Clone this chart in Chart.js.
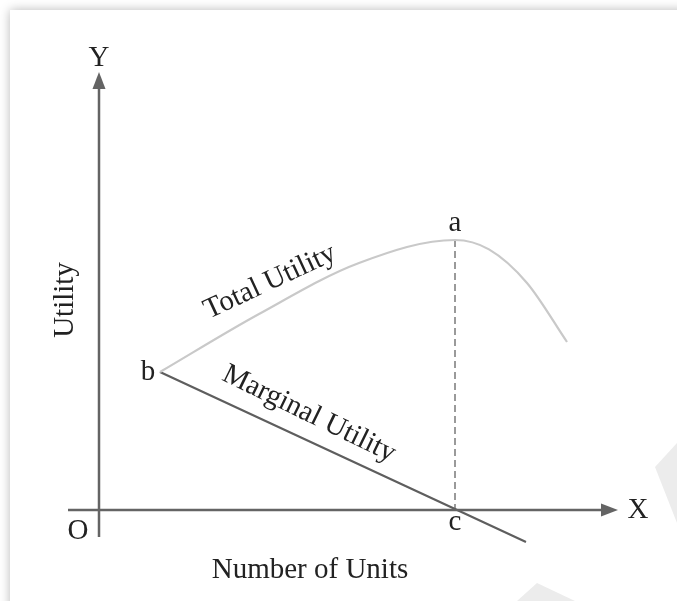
<!DOCTYPE html>
<html>
<head>
<meta charset="utf-8">
<script src="https://cdn.jsdelivr.net/npm/chart.js@4/dist/chart.umd.min.js"></script>
<style>
  html, body { margin: 0; padding: 0; background: #ffffff; width: 677px; height: 601px; overflow: hidden; }
  #frame { position: absolute; left: 10px; top: 10px; width: 700px; height: 620px; background: #fff; box-shadow: 0 0 10px rgba(0,0,0,0.28); }
  .wm { position: absolute; background: #ececec; }
  #wm1 { left: 640px; top: 430px; width: 37px; height: 100px; clip-path: polygon(15px 37px, 37px 13px, 37px 93px); }
  #wm2 { left: 510px; top: 575px; width: 70px; height: 26px; clip-path: polygon(7px 26px, 27px 8px, 65px 26px); }
  canvas { position: absolute; left: 0; top: 0; }
</style>
</head>
<body>
<div id="frame"></div>
<div class="wm" id="wm1"></div>
<div class="wm" id="wm2"></div>
<canvas id="c" width="677" height="601"></canvas>
<script>
// ---- data (abstract units, origin O = (0,0)) ----
const tuX = [3.05, 8.0, 13.0, 17.8, 19.5, 21.4, 23.4];
const tuY = [6.9, 9.8, 12.35, 13.5, 13.03, 11.35, 8.4];
const muX = [3.05, 17.8, 21.35];
const muY = [6.9, 0.05, -1.6];
const dropX = [17.8, 17.8];
const dropY = [13.5, 0];
const axisXRange = [-1.55, 25.95];
const axisYRange = [-1.35, 21.9];
const pointLabels = ["a", "b", "c"];
const pointLabelX = [17.8, 2.45, 17.8];
const pointLabelY = [14.35, 6.9, -0.6];
const xTitle = "Number of Units";
const yTitle = "Utility";
const curveLabels = ["Total Utility", "Marginal Utility"];

const toPts = (xs, ys) => xs.map((x, i) => ({ x: x, y: ys[i] }));

const FONT = '29px "Liberation Serif", "DejaVu Serif", serif';

const drawPlugin = {
  id: 'econ',
  afterDatasetsDraw(chart) {
    const ctx = chart.ctx;
    const sx = chart.scales.x, sy = chart.scales.y;
    const px = v => sx.getPixelForValue(v);
    const py = v => sy.getPixelForValue(v);
    const axisColor = '#646464';
    ctx.save();
    // axes
    ctx.strokeStyle = axisColor;
    ctx.lineWidth = 2.5;
    ctx.beginPath();
    ctx.moveTo(px(axisXRange[0]), py(0));
    ctx.lineTo(px(axisXRange[1]) - 10, py(0));
    ctx.moveTo(px(0), py(axisYRange[0]));
    ctx.lineTo(px(0), py(axisYRange[1]) + 10);
    ctx.stroke();
    // arrow heads
    ctx.fillStyle = axisColor;
    const xt = px(axisXRange[1]), yt = py(0);
    ctx.beginPath();
    ctx.moveTo(xt, yt); ctx.lineTo(xt - 17, yt - 6.5); ctx.lineTo(xt - 17, yt + 6.5); ctx.closePath(); ctx.fill();
    const ax = px(0), ay = py(axisYRange[1]);
    ctx.beginPath();
    ctx.moveTo(ax, ay); ctx.lineTo(ax - 6.5, ay + 17); ctx.lineTo(ax + 6.5, ay + 17); ctx.closePath(); ctx.fill();

    // text
    ctx.font = FONT;
    ctx.fillStyle = '#222222';
    ctx.textAlign = 'center';
    ctx.textBaseline = 'middle';
    ctx.fillText(xTitle, px(10.55), py(-3.0));
    ctx.fillText('X', px(26.95), py(0));
    ctx.fillText('Y', px(0), py(22.6));
    ctx.fillText('O', px(-1.05), py(-1.05));
    pointLabels.forEach((t, i) => ctx.fillText(t, px(pointLabelX[i]), py(pointLabelY[i])));
    // y title
    ctx.save();
    ctx.translate(px(-1.7), py(10.5));
    ctx.rotate(-Math.PI / 2);
    ctx.fillText(yTitle, 0, 0);
    ctx.restore();
    // curve labels
    ctx.save();
    ctx.translate(px(8.55), py(11.4));
    ctx.rotate(-25 * Math.PI / 180);
    ctx.fillText(curveLabels[0], 0, 0);
    ctx.restore();
    ctx.save();
    ctx.translate(px(10.5), py(4.8));
    ctx.rotate(26 * Math.PI / 180);
    ctx.fillText(curveLabels[1], 0, 0);
    ctx.restore();
    ctx.restore();
  }
};

new Chart(document.getElementById('c'), {
  type: 'scatter',
  data: {
    datasets: [
      { label: 'Total Utility', data: toPts(tuX, tuY), showLine: true, cubicInterpolationMode: 'monotone',
        borderColor: '#c9c9c9', borderWidth: 2.2, pointRadius: 0, fill: false },
      { label: 'Marginal Utility', data: toPts(muX, muY), showLine: true, tension: 0,
        borderColor: '#5e5e5e', borderWidth: 2.2, pointRadius: 0, fill: false },
      { label: 'drop', data: toPts(dropX, dropY), showLine: true, tension: 0, borderDash: [7, 4],
        borderColor: '#9a9a9a', borderWidth: 2, pointRadius: 0, fill: false }
    ]
  },
  options: {
    responsive: false,
    animation: false,
    layout: { padding: { left: 59, right: 18, top: 40, bottom: 41 } },
    scales: {
      x: { type: 'linear', min: -2, max: 28, display: false },
      y: { type: 'linear', min: -2.5, max: 23.5, display: false }
    },
    plugins: { legend: { display: false }, tooltip: { enabled: false } }
  },
  plugins: [drawPlugin]
});
</script>
</body>
</html>
